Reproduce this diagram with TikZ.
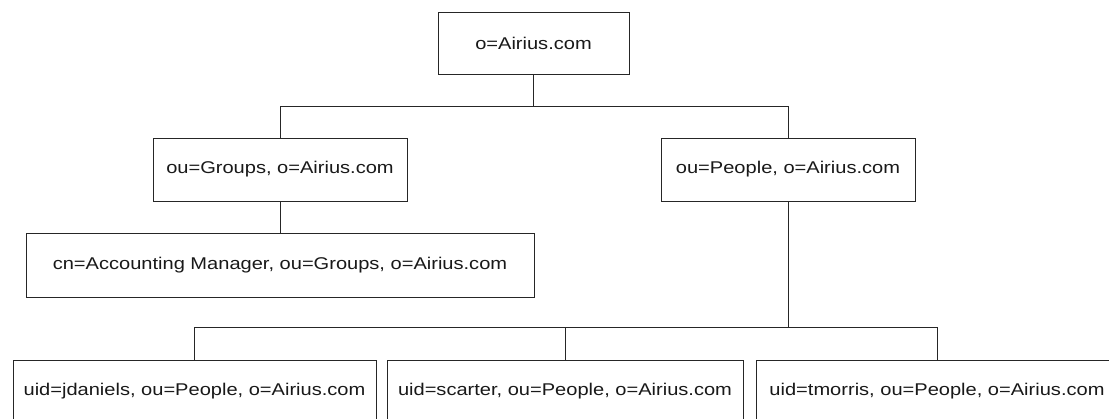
\documentclass[tikz,border=0pt]{standalone}
\usepackage{fontspec}
\setmainfont{Liberation Sans}[FakeStretch=1.18]
\begin{document}
\begin{tikzpicture}[x=1pt,y=-1pt,
  entry/.style={draw=black!85, line width=0.9pt, fill=white, inner sep=0pt,
    font=\fontsize{17}{20}\selectfont, text=black!90},
  link/.style={draw=black!85, line width=0.9pt}]
  \clip (0,0) rectangle (1109,418);
  \fill[white] (0,0) rectangle (1109,418);

  % directory entries (centre, size)
  \node[entry, minimum width=191pt, minimum height=62pt] (root)   at (533.5,43)  {o=Airius.com};
  \node[entry, minimum width=254pt, minimum height=63pt] (groups) at (280,169.5) {ou=Groups, o=Airius.com};
  \node[entry, minimum width=254pt, minimum height=63pt] (people) at (788,169.5) {ou=People, o=Airius.com};
  \node[entry, minimum width=508pt, minimum height=64pt] (acct)   at (280,265)   {cn=Accounting Manager, ou=Groups, o=Airius.com};
  \node[entry, minimum width=363pt, minimum height=63pt] (jd)     at (194.5,391.5) {uid=jdaniels, ou=People, o=Airius.com};
  \node[entry, minimum width=356pt, minimum height=63pt] (sc)     at (565,391.5) {uid=scarter, ou=People, o=Airius.com};
  \node[entry, minimum width=362pt, minimum height=63pt] (tm)     at (937,391.5) {uid=tmorris, ou=People, o=Airius.com};

  % tree connectors
  \draw[link] (root.south) -- ++(0,32) coordinate (fork1);
  \draw[link] (groups.north) |- (fork1) -| (people.north);
  \draw[link] (groups.south) -- (acct.north);
  \draw[link] (jd.north) -- ++(0,-32) coordinate (fork2) -| (tm.north);
  \draw[link] (sc.north) -- (sc.north |- fork2);
  \draw[link] (people.south) -- (people.south |- fork2);
\end{tikzpicture}
\end{document}
